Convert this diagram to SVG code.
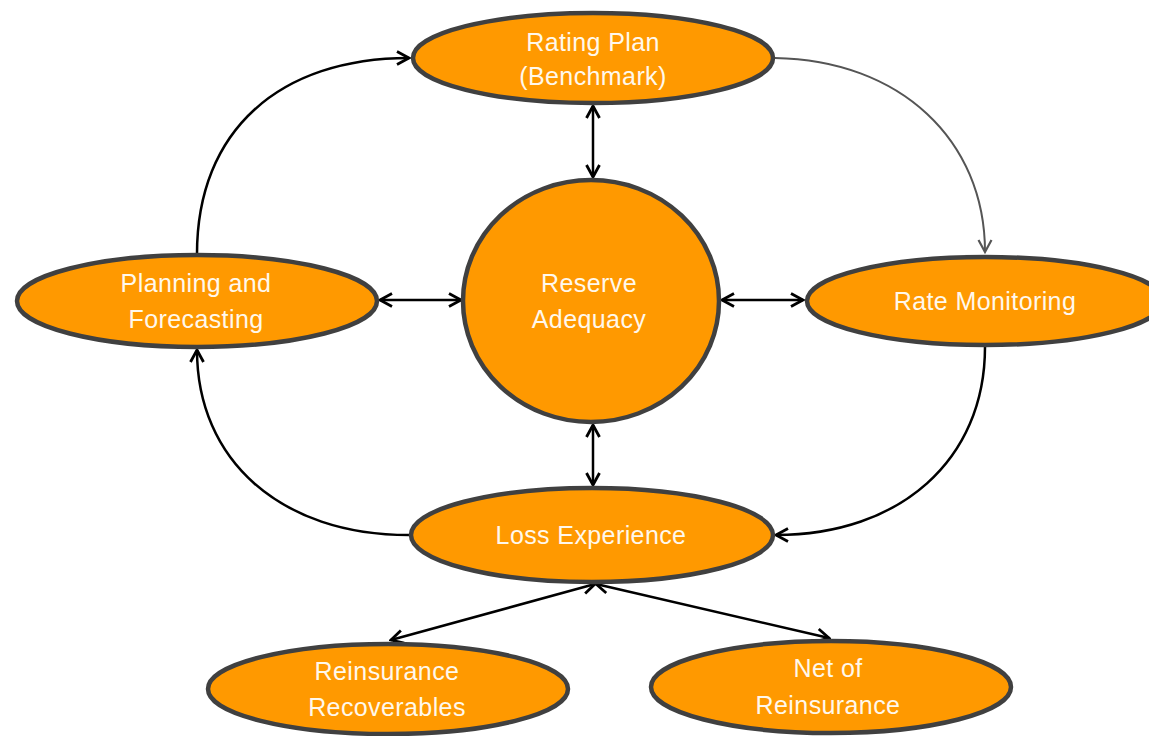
<svg xmlns="http://www.w3.org/2000/svg" width="1149" height="736" viewBox="0 0 1149 736">
<style>
.n{fill:#FF9900;stroke:#404040;stroke-width:4.5}
.t{font-family:"Liberation Sans",Arial,sans-serif;font-size:25px;letter-spacing:0.4px;fill:#FFF8EC;text-anchor:middle}
.c{fill:none;stroke:#000;stroke-width:2.5}
.g{fill:none;stroke:#555;stroke-width:2}
</style>
<defs>
<marker id="a" viewBox="0 0 16 16" refX="14" refY="8" markerWidth="16" markerHeight="16" markerUnits="userSpaceOnUse" orient="auto-start-reverse">
<path d="M2,1.5 L14,8 L2,14.5" fill="none" stroke="#000" stroke-width="2.8"/>
</marker>
<marker id="ag" viewBox="0 0 16 16" refX="14" refY="8" markerWidth="16" markerHeight="16" markerUnits="userSpaceOnUse" orient="auto">
<path d="M2,1.5 L14,8 L2,14.5" fill="none" stroke="#555" stroke-width="2.2"/>
</marker>
</defs>
<rect width="1149" height="736" fill="#fff"/>
<g id="connectors">
<path class="c" d="M197,254 C197,130 280,58 409,58" marker-end="url(#a)"/>
<path class="g" d="M775,58 C900,60 985,140 985,252" marker-end="url(#ag)"/>
<path class="c" d="M985,347 C985,460 900,535 776,535" marker-end="url(#a)"/>
<path class="c" d="M409,535 C280,535 197,460 197,350" marker-end="url(#a)"/>
<path class="c" d="M593,106 L593,177" marker-start="url(#a)" marker-end="url(#a)"/>
<path class="c" d="M593,425 L593,485" marker-start="url(#a)" marker-end="url(#a)"/>
<path class="c" d="M380,300 L461,300" marker-start="url(#a)" marker-end="url(#a)"/>
<path class="c" d="M722,300 L803,300" marker-start="url(#a)" marker-end="url(#a)"/>
<path class="c" d="M595,584 L391,640" marker-start="url(#a)" marker-end="url(#a)"/>
<path class="c" d="M596,584 L829,638" marker-start="url(#a)" marker-end="url(#a)"/>
</g>
<g id="rating-plan">
<ellipse class="n" cx="593" cy="58" rx="180" ry="45"/>
<text class="t" x="593" y="51">Rating Plan</text>
<text class="t" x="593" y="85">(Benchmark)</text>
</g>
<g id="planning">
<ellipse class="n" cx="197" cy="301" rx="180" ry="46"/>
<text class="t" x="196" y="292">Planning and</text>
<text class="t" x="196" y="328">Forecasting</text>
</g>
<g id="reserve">
<ellipse class="n" cx="591" cy="301" rx="128" ry="121"/>
<text class="t" x="589" y="292">Reserve</text>
<text class="t" x="589" y="328">Adequacy</text>
</g>
<g id="rate-monitoring">
<ellipse class="n" cx="985" cy="301" rx="178" ry="44"/>
<text class="t" x="985" y="310">Rate Monitoring</text>
</g>
<g id="loss">
<ellipse class="n" cx="592" cy="535" rx="181" ry="47"/>
<text class="t" x="591" y="544">Loss Experience</text>
</g>
<g id="recoverables">
<ellipse class="n" cx="388" cy="689" rx="180" ry="45"/>
<text class="t" x="387" y="680">Reinsurance</text>
<text class="t" x="387" y="716">Recoverables</text>
</g>
<g id="net">
<ellipse class="n" cx="831" cy="687" rx="180" ry="46"/>
<text class="t" x="828" y="677">Net of</text>
<text class="t" x="828" y="714">Reinsurance</text>
</g>
</svg>
